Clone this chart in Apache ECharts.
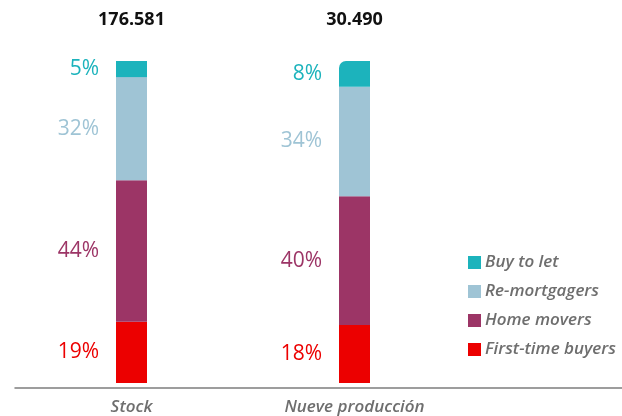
<!DOCTYPE html>
<html>
<head>
<meta charset="utf-8">
<script src="https://cdn.jsdelivr.net/npm/echarts@6/dist/echarts.min.js"></script>
<style>
  html, body { margin: 0; padding: 0; background: #fff; }
  #chart { width: 622px; height: 416px; }
</style>
</head>
<body>
<div id="chart"></div>
<script>
// Mortgage book breakdown by borrower type (share of total, %)
const categories = ['Stock', 'Nueve producción'];
const totals = ['176.581', '30.490'];
const firstTimeBuyers = [19, 18];
const homeMovers = [44, 40];
const reMortgagers = [32, 34];
const buyToLet = [5, 8];

const seriesNames = ['First-time buyers', 'Home movers', 'Re-mortgagers', 'Buy to let'];
const seriesColors = ['#ec0000', '#9c3566', '#9fc4d5', '#1cb3bc'];
const seriesValues = [firstTimeBuyers, homeMovers, reMortgagers, buyToLet];

const FONT = '"Open Sans", "Noto Sans", sans-serif';

const chart = echarts.init(document.getElementById('chart'), null, { renderer: 'canvas' });

const series = seriesNames.map((name, i) => ({
  name: name,
  type: 'bar',
  stack: 'share',
  xAxisIndex: 0,
  yAxisIndex: 0,
  barWidth: 31,
  itemStyle: { color: seriesColors[i] },
  label: {
    show: true,
    position: 'left',
    distance: 17,
    formatter: '{c}%',
    color: seriesColors[i],
    fontFamily: FONT,
    fontSize: 21,
    fontWeight: 'normal'
  },
  data: seriesValues[i].map((v, j) => {
    // the newer-production column has a rounded top-left corner
    if (name === 'Buy to let' && j === 1) {
      return { value: v, itemStyle: { borderRadius: [7, 0, 0, 0] } };
    }
    return v;
  })
}));

chart.setOption({
  animation: false,
  backgroundColor: '#ffffff',
  grid: [
    { left: 20, width: 446, top: 61, bottom: 33 },
    { left: 15, right: 0, top: 61, bottom: 28 }
  ],
  legend: {
    orient: 'vertical',
    left: 468,
    top: 254,
    padding: 0,
    itemWidth: 13,
    itemHeight: 13,
    itemGap: 12,
    icon: 'rect',
    data: ['Buy to let', 'Re-mortgagers', 'Home movers', 'First-time buyers'],
    textStyle: {
      color: '#6e6e6e',
      fontFamily: FONT,
      fontSize: 17,
      fontStyle: 'italic',
      fontWeight: 600,
      lineHeight: 17,
      padding: [0, 0, 0, -1]
    }
  },
  xAxis: [
    {
      type: 'category',
      gridIndex: 0,
      data: categories,
      axisLine: { show: false },
      axisTick: { show: false },
      axisLabel: {
        margin: 16,
        color: '#6e6e6e',
        fontFamily: FONT,
        fontSize: 17,
        fontStyle: 'italic',
        fontWeight: 600
      }
    },
    {
      type: 'category',
      gridIndex: 0,
      position: 'top',
      data: totals,
      axisLine: { show: false },
      axisTick: { show: false },
      axisLabel: {
        margin: 32,
        color: '#111111',
        fontFamily: FONT,
        fontSize: 18,
        fontWeight: 'bold'
      }
    },
    {
      type: 'category',
      gridIndex: 1,
      data: [''],
      axisLine: { show: true, lineStyle: { color: '#7d7d7d', width: 1.5 } },
      axisTick: { show: false },
      axisLabel: { show: false }
    }
  ],
  yAxis: [
    {
      type: 'value',
      gridIndex: 0,
      min: 0,
      max: 100,
      show: false
    },
    {
      type: 'value',
      gridIndex: 1,
      show: false
    }
  ],
  series: series
});
</script>
</body>
</html>
